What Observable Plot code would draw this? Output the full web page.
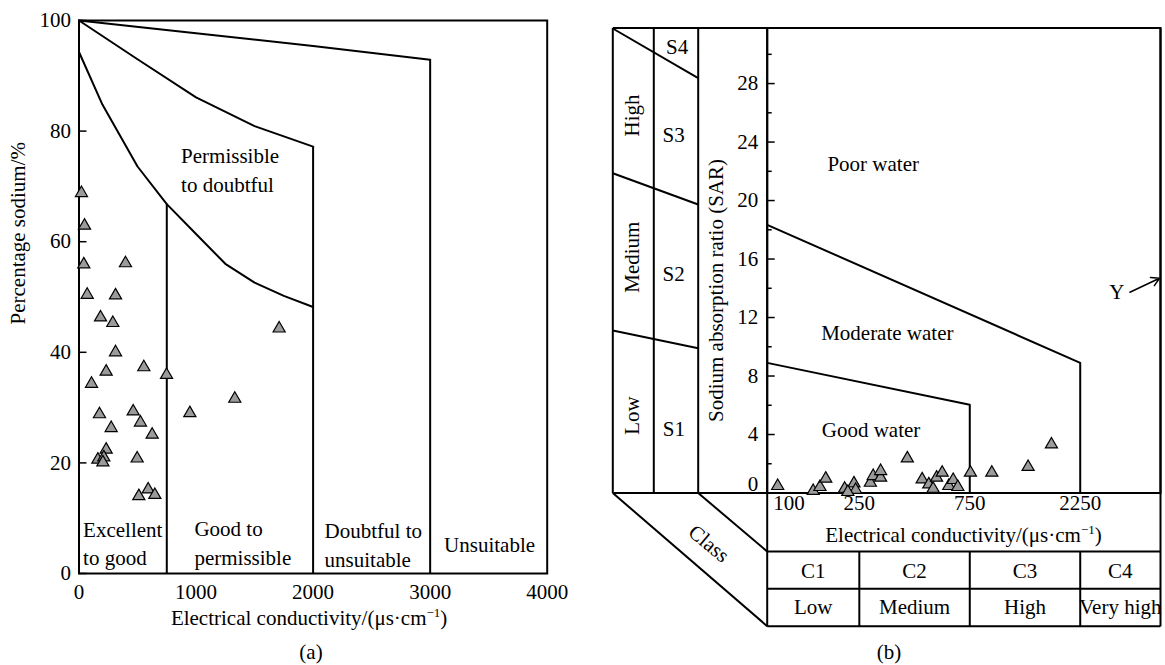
<!DOCTYPE html>
<html>
<head>
<meta charset="utf-8">
<script src="https://cdn.jsdelivr.net/npm/d3@7"></script>
<script src="https://cdn.jsdelivr.net/npm/@observablehq/plot@0.6"></script>
<style>
  body { margin: 0; background: #fff; }
  #wrap { position: relative; width: 1165px; height: 665px; overflow: hidden;
          font-family: "Liberation Serif", "Times New Roman", serif; color: #000; }
  .panel { position: absolute; top: 0; }
  .cap { position: absolute; font-size: 21px; line-height: 1; transform: translate(-50%, -50%); }
</style>
</head>
<body>
<div id="wrap">
  <div class="panel" id="panelA" style="left:0;width:580px"></div>
  <div class="panel" id="panelBFrame" style="left:580px;width:585px"></div>
  <div class="panel" id="panelB" style="left:580px;width:585px"></div>
  <div class="cap" style="left:311px;top:652px">(a)</div>
  <div class="cap" style="left:889px;top:652px">(b)</div>
</div>
<script>
// ---------- (a) Wilcox diagram: %Na against electrical conductivity ----------
const ecA = [21, 47, 41, 397, 70, 312, 184, 289, 312, 232, 554, 748, 107, 1331, 175,
             463, 947, 525, 275, 625, 232, 161, 212, 204, 497, 591, 511, 648, 1710];
const naA = [68.8, 62.9, 55.9, 56.1, 50.4, 50.3, 46.3, 45.3, 40.0, 36.5, 37.3, 35.9, 34.3, 31.6, 28.8,
             29.3, 29.0, 27.3, 26.3, 25.1, 22.4, 20.6, 21.0, 20.1, 20.8, 15.2, 14.0, 14.2, 44.3];
const naTicksA = [0, 20, 40, 60, 80, 100];
const ecTicksA = [0, 1000, 2000, 3000, 4000];

// class boundary curves
const excellentEC = [0, 200, 500, 750, 1000, 1250, 1500, 1750, 2000];
const excellentNa = [94.3, 84.8, 73.6, 66.8, 61.4, 56.0, 52.6, 50.2, 48.2];
const permissibleEC = [0, 500, 1000, 1500, 2000];
const permissibleNa = [100, 93.0, 86.1, 80.9, 77.2];
const doubtfulEC = [0, 1000, 2000, 3000];
const doubtfulNa = [100, 97.7, 95.4, 92.9];
const dividerEC = [750, 2000, 3000];
const dividerNa = [66.8, 77.2, 92.9];

const zoneNamesA = ["Excellent\nto good", "Good to\npermissible", "Doubtful to\nunsuitable", "Unsuitable", "Permissible\nto doubtful"];
const zoneEcA = [35, 986, 2098, 3119, 872];
const zoneNaA = [5.7, 5.8, 5.4, 5.5, 73.3];

// ---------- (b) USSL diagram: SAR against electrical conductivity ----------
const ecB = [111, 158, 169, 179, 216, 237, 241, 223, 279, 287, 309, 309, 403, 467, 499,
             521, 539, 570, 609, 636, 666, 755, 934, 1340, 1690];
const sarB = [0.48, 0.14, 0.41, 0.98, 0.29, 0.66, 0.21, 0.07, 0.70, 1.16, 1.05, 1.50, 2.37, 0.93, 0.59,
              0.29, 1.05, 1.39, 0.48, 0.89, 0.41, 1.39, 1.39, 1.78, 3.32];
const sarMajor = [0, 4, 8, 12, 16, 20, 24, 28];
const sarMinor = [2, 6, 10, 14, 18, 22, 26, 30];
const ecTicksB = [100, 250, 750, 2250];

const goodEC = [100, 750, 750];
const goodSAR = [8.9, 6.03, 0];
const moderateEC = [100, 2250, 2250];
const moderateSAR = [18.34, 8.9, 0];

const zoneNamesB = ["Poor water", "Moderate water", "Good water"];
const zoneEcB = [182, 171, 172];
const zoneSarB = [22.5, 10.9, 4.27];

const classCodes = ["C1", "C2", "C3", "C4"];
const classLevels = ["Low", "Medium", "High", "Very high"];
const classBounds = [100, 250, 750, 2250, 5000];
const sodiumCodes = ["S1", "S2", "S3", "S4"];
const sodiumLevels = ["Low", "Medium", "High"];

// ---------- helpers ----------
const pairs = (xs, ys) => xs.map((x, i) => ({x, y: ys[i]}));
const font = "font-family:'Liberation Serif','Times New Roman',serif;font-size:21px;color:#000;";
const tri = {symbol: "triangle", r: 4.5, fill: "#9b9b9b", stroke: "#000", strokeWidth: 1.2};
const ink = {stroke: "#000", strokeWidth: 2};

// set the "-1" exponent of the conductivity unit as a superscript
function superscriptUnit(svg) {
  d3.select(svg).selectAll("text").each(function () {
    const t = this.textContent;
    const k = t.indexOf("cm-1)");
    if (k < 0) return;
    const s = d3.select(this).text(null);
    s.append("tspan").text(t.slice(0, k + 2));
    s.append("tspan").attr("font-size", "13px").attr("dy", "-8").text("\u22121");
    s.append("tspan").attr("dy", "8").text(")");
  });
  return svg;
}

// ---------- panel (a) ----------
const plotA = Plot.plot({
  width: 580, height: 640,
  marginLeft: 78.5, marginRight: 33.3, marginTop: 20, marginBottom: 67,
  style: font + "background:#fff;",
  x: {domain: [0, 4000]},
  y: {domain: [0, 100]},
  marks: [
    Plot.axisY({ticks: naTicksA, tickSize: -8, tickPadding: 16, label: null, strokeWidth: 1.5,
                tickFormat: d => String(d)}),
    Plot.axisX({ticks: ecTicksA, tickSize: 0, tickPadding: 11, label: null,
                tickFormat: d => String(d)}),
    Plot.line(pairs(excellentEC, excellentNa), {x: "x", y: "y", ...ink}),
    Plot.line(pairs(permissibleEC, permissibleNa), {x: "x", y: "y", ...ink}),
    Plot.line(pairs(doubtfulEC, doubtfulNa), {x: "x", y: "y", ...ink}),
    Plot.ruleX(pairs(dividerEC, dividerNa), {x: "x", y1: 0, y2: "y", ...ink}),
    Plot.frame(ink),
    Plot.text(zoneNamesA.map((t, i) => ({t, x: zoneEcA[i], y: zoneNaA[i]})),
      {x: "x", y: "y", text: "t", textAnchor: "start", lineHeight: 1.36}),
    Plot.text(["Percentage sodium/%"], {frameAnchor: "left", rotate: -90, dx: -60.5, dy: 27.5}),
    Plot.text(["Electrical conductivity/(μs·cm-1)"], {frameAnchor: "bottom", dx: -4, dy: 51}),
    Plot.dot(pairs(ecA, naA), {x: "x", y: "y", ...tri})
  ]
});
document.getElementById("panelA").append(superscriptUnit(plotA));

// ---------- panel (b): diagram furniture (hazard strip and class table) ----------
const L = {cols: [32.3, 73.3, 117.7], axis: 186.7, right: 580, top: 27.5, base: 492.5,
           row0: 551, row1: 588.3, row2: 625.7};
const sx = Plot.scale({x: {type: "log", domain: [100, 5000], range: [L.axis, L.right]}});

const segs = [
  {x1: L.cols[0], y1: L.top, x2: L.right, y2: L.top},
  {x1: L.cols[0], y1: L.base, x2: L.right, y2: L.base},
  ...L.cols.map(c => ({x1: c, y1: L.top, x2: c, y2: L.base})),
  {x1: L.axis, y1: L.top, x2: L.axis, y2: L.row2},
  {x1: L.right, y1: L.top, x2: L.right, y2: L.row2},
  // sodium hazard class boundaries in the strip
  {x1: L.cols[0], y1: 28, x2: L.cols[2], y2: 77.7},
  {x1: L.cols[0], y1: 172.7, x2: L.cols[2], y2: 204},
  {x1: L.cols[0], y1: 330, x2: L.cols[2], y2: 347.7},
  // oblique "Class" band
  {x1: L.cols[0], y1: L.base, x2: L.axis, y2: L.row2},
  {x1: L.cols[2], y1: L.base, x2: L.axis, y2: L.row0},
  // salinity class table
  {x1: L.axis, y1: L.row0, x2: L.right, y2: L.row0},
  {x1: L.axis, y1: L.row1, x2: L.right, y2: L.row1},
  {x1: L.axis, y1: L.row2, x2: L.right, y2: L.row2},
  ...classBounds.slice(1, -1).map(b => ({x1: sx.apply(b), y1: L.row0, x2: sx.apply(b), y2: L.row2}))
];

const furnText = [
  {t: sodiumCodes[3], x: 96.7, y: 46.7, r: 0},
  {t: sodiumCodes[2], x: 93.2, y: 135, r: 0},
  {t: sodiumCodes[1], x: 93.2, y: 273.3, r: 0},
  {t: sodiumCodes[0], x: 93.3, y: 428.3, r: 0},
  {t: sodiumLevels[2], x: 51.5, y: 115, r: -90},
  {t: sodiumLevels[1], x: 51.5, y: 256.7, r: -90},
  {t: sodiumLevels[0], x: 51.5, y: 415, r: -90},
  {t: "Sodium absorption ratio (SAR)", x: 135.5, y: 290, r: -90},
  {t: "Class", x: 128.3, y: 543.3, r: 40},
  {t: "Electrical conductivity/(μs·cm-1)", x: 383, y: 535, r: 0},
  {t: "Y", x: 536.4, y: 291.7, r: 0},
  ...classCodes.map((t, i) => ({t, x: sx.apply(Math.sqrt(classBounds[i] * classBounds[i + 1])), y: 570.5, r: 0})),
  ...classLevels.map((t, i) => ({t, x: sx.apply(Math.sqrt(classBounds[i] * classBounds[i + 1])), y: 606.5, r: 0}))
];

const plotBFrame = Plot.plot({
  width: 585, height: 640, margin: 0,
  style: font + "background:#fff;",
  x: {type: "identity", axis: null},
  y: {type: "identity", axis: null},
  marks: [
    Plot.link(segs, {x1: "x1", y1: "y1", x2: "x2", y2: "y2", ...ink}),
    Plot.text(furnText, {x: "x", y: "y", text: "t", rotate: "r"}),
    Plot.arrow([{x1: 549.4, y1: 291.7, x2: 579, y2: 277.7}],
      {x1: "x1", y1: "y1", x2: "x2", y2: "y2", stroke: "#000", strokeWidth: 1.5, headLength: 9})
  ]
});
document.getElementById("panelBFrame").append(superscriptUnit(plotBFrame));

// ---------- panel (b): data layer ----------
const plotB = Plot.plot({
  width: 585, height: 640,
  marginLeft: L.axis, marginRight: 585 - L.right, marginTop: L.top, marginBottom: 640 - L.base,
  style: font + "background:transparent;",
  x: {type: "log", domain: [100, 5000], axis: null},
  y: {domain: [0, 31.8]},
  marks: [
    Plot.axisY({ticks: sarMinor, tickSize: -5, tickFormat: () => "", label: null, strokeWidth: 1.5}),
    Plot.axisY({ticks: sarMajor, tickSize: -8, tickPadding: 17, label: null, strokeWidth: 1.5,
                tickFormat: d => (d === 0 ? "" : String(d))}),
    Plot.text([0], {y: d => d, text: d => String(d), frameAnchor: "left", textAnchor: "end", dx: -9, dy: -9}),
    Plot.text(ecTicksB.slice(0, 1), {x: d => d, text: d => String(d), frameAnchor: "bottom", textAnchor: "start", dx: 6, dy: 16.5}),
    Plot.text(ecTicksB.slice(1), {x: d => d, text: d => String(d), frameAnchor: "bottom", dy: 16.5}),
    Plot.line(pairs(goodEC, goodSAR), {x: "x", y: "y", ...ink}),
    Plot.line(pairs(moderateEC, moderateSAR), {x: "x", y: "y", ...ink}),
    Plot.frame(ink),
    Plot.text(zoneNamesB.map((t, i) => ({t, x: zoneEcB[i], y: zoneSarB[i]})),
      {x: "x", y: "y", text: "t", textAnchor: "start"}),
    Plot.dot(pairs(ecB, sarB), {x: "x", y: "y", ...tri})
  ]
});
document.getElementById("panelB").append(plotB);
</script>
</body>
</html>
